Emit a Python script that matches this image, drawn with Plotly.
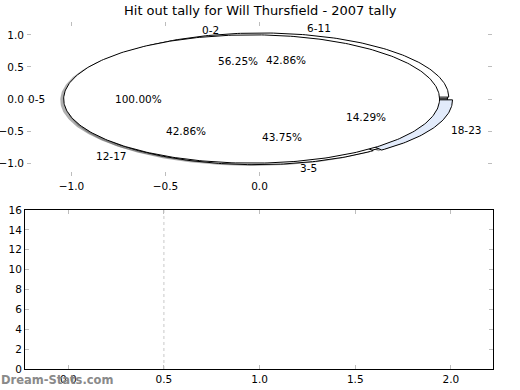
import math
import plotly.graph_objects as go

# ---- data ----
title = "Hit out tally for Will Thursfield - 2007 tally"
pie1_labels = ["0-5"]
pie1_values = [100.0]
pie2_labels = ["0-2", "3-5"]
pie2_values = [56.25, 43.75]
pie3_labels = ["6-11", "12-17", "18-23"]
pie3_values = [42.86, 42.86, 14.29]
bar_categories = [0.5]
bar_values = [16]
x_ticks_top = [-1.0, -0.5, 0.0]
y_ticks_top = [-1.0, -0.5, 0.0, 0.5, 1.0]
x_ticks_bottom = [0.0, 0.5, 1.0, 1.5, 2.0]
y_ticks_bottom = [0, 2, 4, 6, 8, 10, 12, 14, 16]

# ---- style ----
FONT = "DejaVu Sans"
pie1_explode = [0.042]
pie2_explode = [0.0, 0.0]
pie3_explode = [0.03, 0.03, 0.03]
pie1_colors = ["white"]
pie2_colors = ["white", "white"]
pie3_colors = ["white", "white", "#e2ebfb"]
TICKC = "#bdbdbd"
SHADOW_DX, SHADOW_DY = -0.018, -0.02

fig = go.Figure()

def wedge_poly(cx, cy, r, a1, a2):
    n = max(8, int(abs(a2 - a1) / 1.0))
    xs, ys = [], []
    full = abs(a2 - a1) >= 359.999
    if not full:
        xs.append(cx); ys.append(cy)
    for i in range(n + 1):
        a = math.radians(a1 + (a2 - a1) * i / n)
        xs.append(cx + r * math.cos(a)); ys.append(cy + r * math.sin(a))
    if not full:
        xs.append(cx); ys.append(cy)
    return xs, ys

def pie_geom(values, explode):
    tot = sum(values)
    out = []
    a = 0.0
    for v, e in zip(values, explode):
        span = 360.0 * v / tot
        mid = math.radians(a + span / 2)
        cx, cy = e * math.cos(mid), e * math.sin(mid)
        out.append((a, a + span, cx, cy, mid, v / tot * 100))
        a += span
    return out

pies = [
    (pie2_labels, pie2_values, pie2_explode, pie2_colors),
    (pie3_labels, pie3_values, pie3_explode, pie3_colors),
    (pie1_labels, pie1_values, pie1_explode, pie1_colors),
]

# shadows first (below all wedges)
for labels, values, explode, colors in pies:
    for (a1, a2, cx, cy, mid, pct), col in zip(pie_geom(values, explode), colors):
        xs, ys = wedge_poly(cx + SHADOW_DX, cy + SHADOW_DY, 1.0, a1, a2)
        fig.add_trace(go.Scatter(x=xs, y=ys, mode="lines", fill="toself",
                                 fillcolor="rgba(77,77,77,0.45)", line=dict(width=0),
                                 hoverinfo="skip", showlegend=False, xaxis="x", yaxis="y"))

annotations = []
for labels, values, explode, colors in pies:
    for lab, (a1, a2, cx, cy, mid, pct), col in zip(labels, pie_geom(values, explode), colors):
        xs, ys = wedge_poly(cx, cy, 1.0, a1, a2)
        fig.add_trace(go.Scatter(x=xs, y=ys, mode="lines", fill="toself",
                                 fillcolor=col, line=dict(color="black", width=1),
                                 hoverinfo="skip", showlegend=False, xaxis="x", yaxis="y"))
        xt = cx + 1.1 * math.cos(mid)
        yt = cy + 1.1 * math.sin(mid)
        annotations.append(dict(x=xt, y=yt, xref="x", yref="y", text=lab, showarrow=False,
                                xanchor="left" if xt > 0 else "right", yanchor="middle",
                                borderpad=0, borderwidth=0,
                                font=dict(family=FONT, size=10.5, color="black")))
        xp = cx + 0.6 * math.cos(mid)
        yp = cy + 0.6 * math.sin(mid)
        annotations.append(dict(x=xp, y=yp, xref="x", yref="y", text="%.2f%%" % pct,
                                showarrow=False, xanchor="center", yanchor="middle",
                                borderpad=0, borderwidth=0,
                                font=dict(family=FONT, size=10.5, color="black")))

# bottom panel: dotted vertical line
for c, v in zip(bar_categories, bar_values):
    fig.add_trace(go.Scatter(x=[c, c], y=[0, v], mode="lines",
                             line=dict(color="#c8c8c8", width=1, dash="dot"),
                             hoverinfo="skip", showlegend=False, xaxis="x2", yaxis="y2"))

annotations.append(dict(x=0.5, y=1 - 10 / 390, xref="paper", yref="paper", text=title,
                        showarrow=False, xanchor="center", yanchor="middle",
                        font=dict(family=FONT, size=13, color="black")))
annotations.append(dict(x=0.0, y=1 - 380 / 390, xref="paper", yref="paper", text="<b>Dream-Stats.com</b>",
                        showarrow=False, xanchor="left", yanchor="middle", borderpad=0,
                        font=dict(family=FONT, size=11.5, color="#8a8a8a")))

tickfont = dict(family=FONT, size=10.5, color="black")
common = dict(showgrid=False, zeroline=False, ticks="inside", ticklen=4, tickcolor=TICKC,
              mirror="ticks", tickfont=tickfont, fixedrange=True, automargin=False)
fig.update_layout(
    width=520, height=390, autosize=False,
    margin=dict(l=0, r=0, t=0, b=0, autoexpand=False),
    paper_bgcolor="white", plot_bgcolor="white",
    showlegend=False,
    annotations=annotations,
    xaxis=dict(domain=[27 / 520, 492 / 520], range=[-1.237, 1.237], tickvals=x_ticks_top,
               ticktext=["\u22121.0", "\u22120.5", "0.0"], showline=False, anchor="y",
               ticklabelstandoff=2, **common),
    yaxis=dict(domain=[1 - 176 / 390, 1 - 22 / 390], range=[-1.2, 1.2], tickvals=y_ticks_top,
               ticktext=["\u22121.0", "\u22120.5", "0.0", "0.5", "1.0"], showline=False,
               anchor="x", ticklabelstandoff=2, **common),
    xaxis2=dict(domain=[25 / 520, 493 / 520], range=[-0.226, 2.22], tickvals=x_ticks_bottom,
                ticktext=["%.1f" % t for t in x_ticks_bottom],
                showline=True, linecolor="black", linewidth=1, anchor="y2", **common),
    yaxis2=dict(domain=[1 - 369 / 390, 1 - 210 / 390], range=[0, 16], tickvals=y_ticks_bottom,
                showline=True, linecolor="black", linewidth=1, anchor="x2", **common),
)

fig.write_html("out.html", config={"displayModeBar": False},
               post_script="document.body.style.margin='0px';document.body.style.padding='0px';")
